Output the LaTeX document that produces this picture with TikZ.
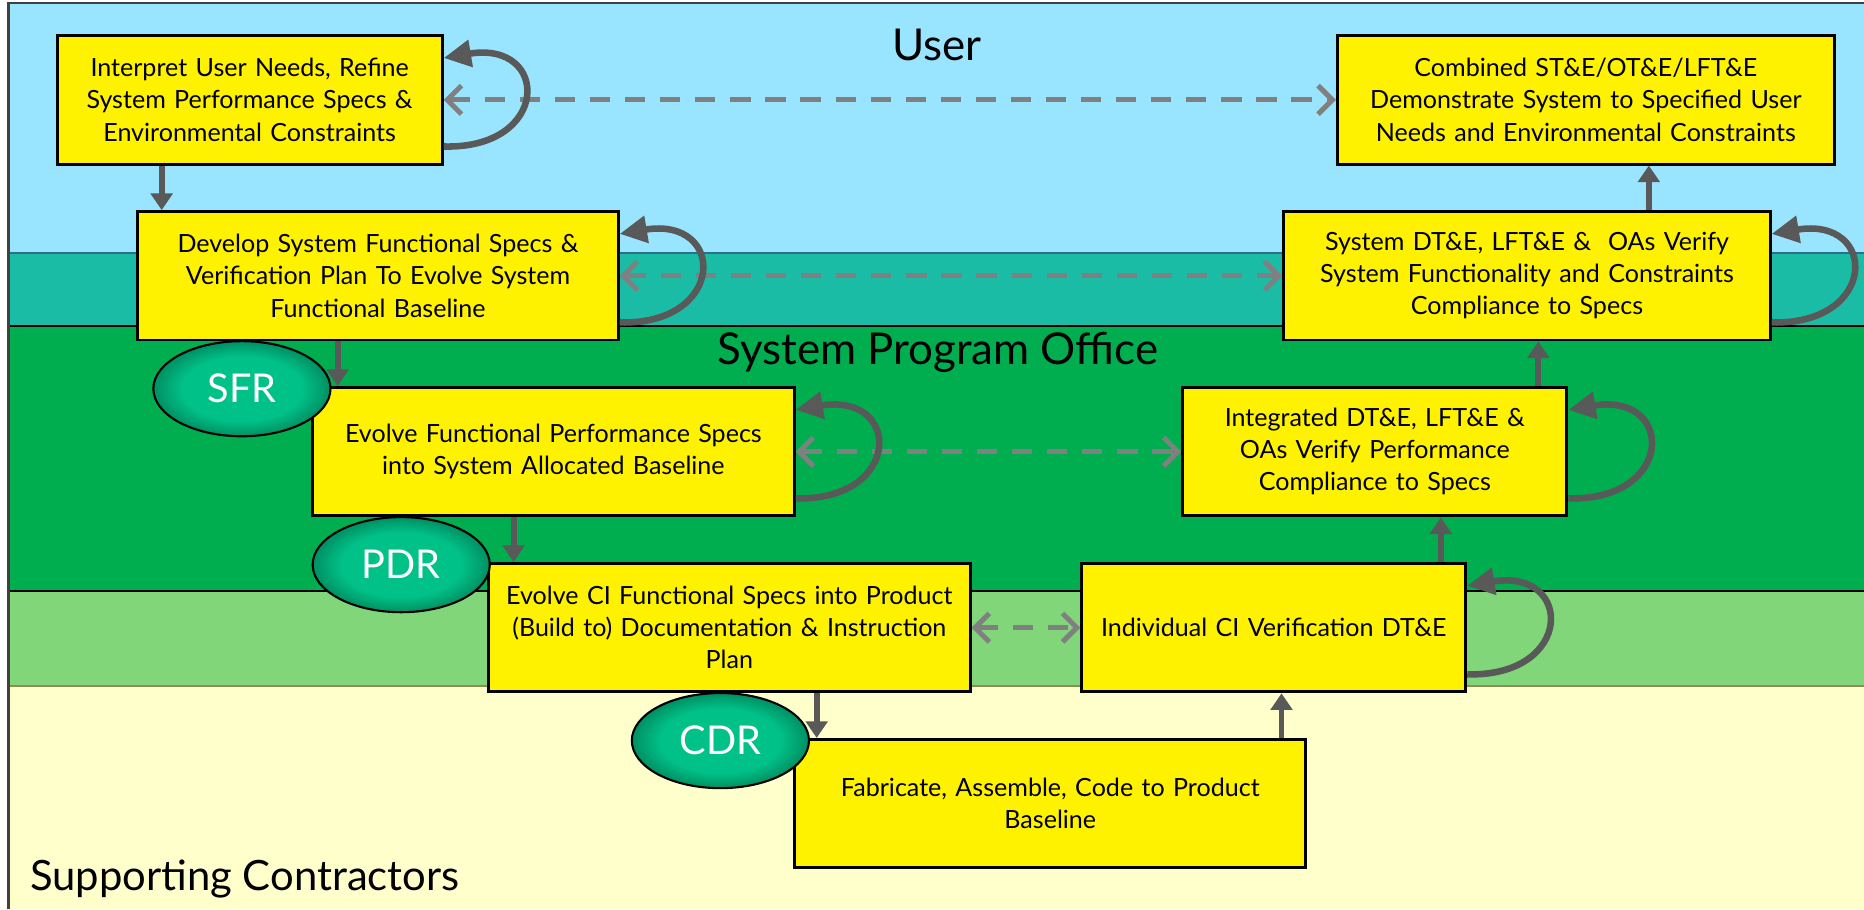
\documentclass[tikz,border=0pt]{standalone}
\usepackage{fontspec}
\setmainfont{Lato}
\usetikzlibrary{arrows.meta,shapes.geometric}
\definecolor{userblue}{HTML}{99E5FF}
\definecolor{spoteal}{HTML}{1ABCA6}
\definecolor{spogreen}{HTML}{00AD4F}
\definecolor{ctrgreen}{HTML}{80D678}
\definecolor{ctrcream}{HTML}{FFFFCC}
\definecolor{bandline}{HTML}{2B6F8C}
\definecolor{oliveline}{HTML}{8C8C55}
\definecolor{framegray}{HTML}{404040}
\definecolor{arrowgray}{HTML}{595959}
\definecolor{dashgray}{HTML}{808080}
\definecolor{revgreen}{HTML}{00C187}
\definecolor{revdark}{HTML}{008F62}
\pgfdeclareradialshading{reviewglow}{\pgfpointorigin}{color(0bp)=(revgreen); color(17bp)=(revgreen); color(25bp)=(revdark); color(50bp)=(revdark)}
\begin{document}
\begin{tikzpicture}[x=0.2mm, y=-0.2mm,
    box/.style={draw, line width=1.4pt, fill=yellow, align=center, inner xsep=0pt,
      minimum height=21.6mm, font=\fontsize{12}{15.4}\selectfont},
    review/.style={ellipse, draw, line width=1pt, shading=reviewglow, text=white,
      minimum width=29.8mm, minimum height=16mm, inner sep=0pt, font=\fontsize{19}{20}\selectfont},
    lane/.style={font=\fontsize{21}{24}\selectfont},
    flow/.style={-{Triangle[length=2.8mm,width=3.6mm]}, line width=1mm, arrowgray},
    iterate/.style={-{Triangle[length=4.6mm,width=4.4mm]}, line width=1.1mm, arrowgray},
    pair/.style={{Straight Barb[length=2.4mm,width=4.8mm]}-{Straight Barb[length=2.4mm,width=4.8mm]},
      line width=0.85mm, dashgray, dash pattern=on 3.4mm off 2.5mm}]
\useasboundingbox (0,0) rectangle (1568,765);
% swim lanes
\fill[userblue] (7,3) rectangle (1568,213);
\fill[spoteal] (7,213) rectangle (1568,274);
\fill[spogreen] (7,274) rectangle (1568,497);
\fill[ctrgreen] (7,497) rectangle (1568,577);
\fill[ctrcream] (7,577) rectangle (1568,765);
\draw[bandline, line width=0.8pt] (7,213) -- (1568,213);
\draw[line width=0.8pt] (7,274) -- (1568,274);
\draw[line width=0.8pt] (7,497) -- (1568,497);
\draw[oliveline, line width=0.8pt] (7,577) -- (1568,577);
\draw[framegray, line width=1.2pt] (7,765) -- (7,2.5) -- (1568,2.5);
\node[lane] (user) at (788,38) {User};
\node[lane] (spo) at (789,296) {System Program Office};
\node[lane, anchor=base west, inner sep=0pt, font=\fontsize{20}{24}\selectfont] (ctr) at (25,749) {Supporting Contractors};
% left leg
\node[box, text width=64.8mm] (interp) at (210,84) {Interpret User Needs, Refine\\System Performance Specs \&\\Environmental Constraints};
\node[box, text width=80.8mm] (develop) at (318,232) {Develop System Functional Specs \&\\Verification Plan To Evolve System\\Functional Baseline};
\node[box, text width=81mm] (evolvefn) at (465.5,380) {Evolve Functional Performance Specs\\into System Allocated Baseline};
\node[box, text width=81mm] (evolveci) at (613.5,528) {Evolve CI Functional Specs into Product\\(Build to) Documentation \& Instruction\\Plan};
\node[box, text width=86mm] (fab) at (883.5,676) {Fabricate, Assemble, Code to Product\\Baseline};
% right leg
\node[box, text width=64.6mm] (indiv) at (1071.5,528) {Individual CI Verification DT\&E};
\node[box, text width=64.6mm] (integ) at (1156.5,380) {Integrated DT\&E, LFT\&E \&\\OAs Verify Performance\\Compliance to Specs};
\node[box, text width=81.8mm] (sysdte) at (1284.5,232) {System DT\&E, LFT\&E \& \ OAs Verify\\System Functionality and Constraints\\Compliance to Specs};
\node[box, text width=83.6mm] (combined) at (1334,84) {Combined ST\&E/OT\&E/LFT\&E\\Demonstrate System to Specified User\\Needs and Environmental Constraints};
% reviews
\node[review] (sfr) at (203.5,327) {SFR};
\node[review] (pdr) at (337.5,475) {PDR};
\node[review] (cdr) at (606,623) {CDR};
% down and up the vee
\draw[flow] (interp.south -| 136,0) -- (develop.north -| 136,0);
\draw[flow] (develop.south -| 284,0) -- (evolvefn.north -| 284,0);
\draw[flow] (evolvefn.south -| 432,0) -- (evolveci.north -| 432,0);
\draw[flow] (evolveci.south -| 687,0) -- (fab.north -| 687,0);
\draw[flow] (fab.north -| 1078,0) -- (indiv.south -| 1078,0);
\draw[flow] (indiv.north -| 1212,0) -- (integ.south -| 1212,0);
\draw[flow] (integ.north -| 1294,0) -- (sysdte.south -| 1294,0);
\draw[flow] (sysdte.north -| 1387,0) -- (combined.south -| 1387,0);
% verification links
\draw[pair] (interp.east) -- (combined.west);
\draw[pair] (develop.east) -- (sysdte.west);
\draw[pair] (evolvefn.east) -- (evolvefn.east -| integ.west);
\draw[pair] (evolveci.east) -- (indiv.west);
% iteration loops
\foreach \b in {interp,develop,evolvefn,integ,indiv,sysdte}
  \draw[iterate] ([yshift=3.2mm]\b.south east) .. controls +(18mm,-0.5mm) and +(18mm,3mm) .. ([yshift=-4mm]\b.north east);
\end{tikzpicture}
\end{document}
